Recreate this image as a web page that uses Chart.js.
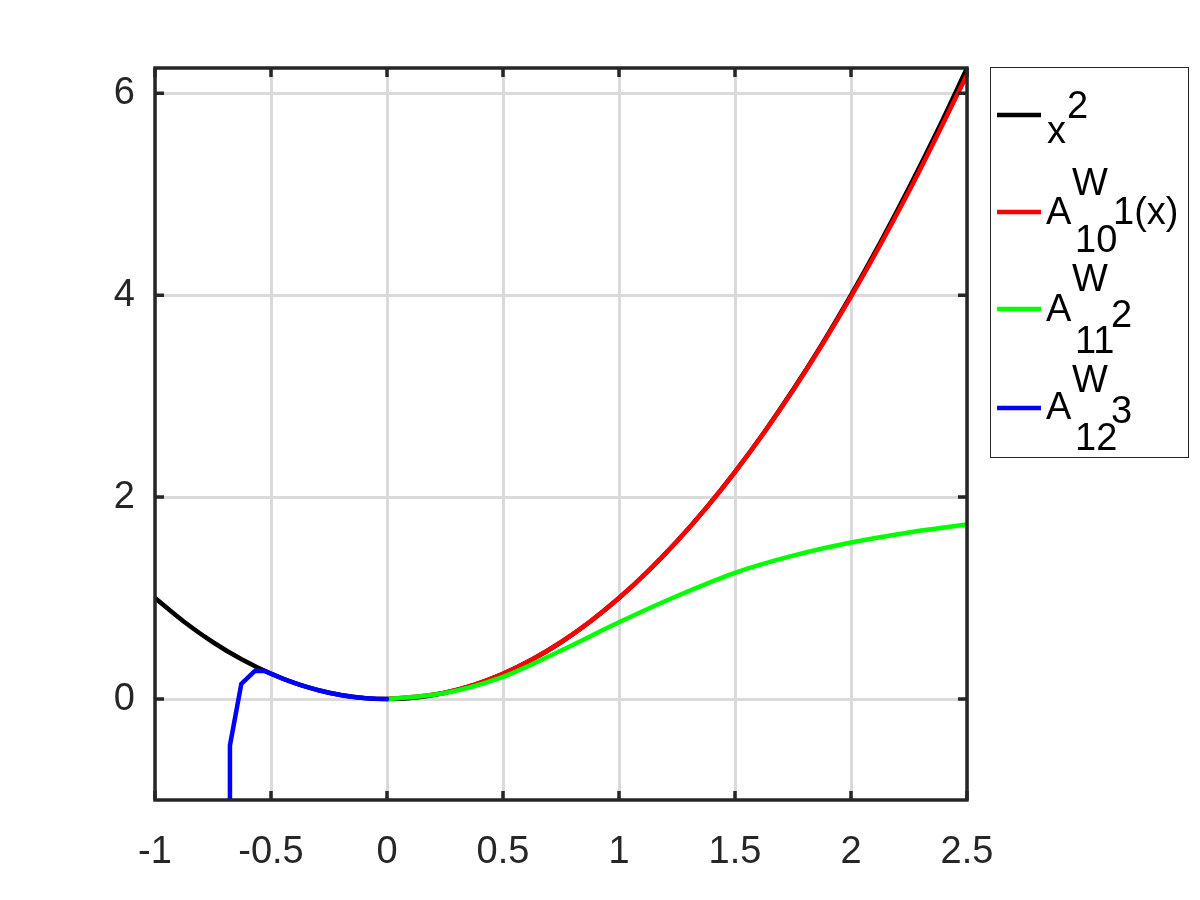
<!DOCTYPE html>
<html>
<head>
<meta charset="utf-8">
<script src="https://cdn.jsdelivr.net/npm/chart.js@4"></script>
<style>
  body { margin: 0; background: #fff; }
  #wrap { width: 1200px; height: 900px; }
</style>
</head>
<body>
<div id="wrap"><canvas id="chart" width="1200" height="900"></canvas></div>
<script>
// x^2 reference curve
const xBlack = [-1, -0.875, -0.75, -0.625, -0.5, -0.375, -0.25, -0.125, 0, 0.125, 0.25, 0.375, 0.5, 0.625, 0.75, 0.875, 1, 1.125, 1.25, 1.375, 1.5, 1.625, 1.75, 1.875, 2, 2.125, 2.25, 2.375, 2.5];
const yBlack = [1, 0.7656, 0.5625, 0.3906, 0.25, 0.1406, 0.0625, 0.0156, 0, 0.0156, 0.0625, 0.1406, 0.25, 0.3906, 0.5625, 0.7656, 1, 1.2656, 1.5625, 1.8906, 2.25, 2.6406, 3.0625, 3.5156, 4, 4.5156, 5.0625, 5.6406, 6.25];

// A^W_10 1(x)
const xRed = [0, 0.25, 0.5, 0.75, 1, 1.25, 1.5, 1.75, 2, 2.25, 2.5];
const yRed = [0, 0.0625, 0.25, 0.5625, 1, 1.562, 2.248, 3.055, 3.985, 5.03, 6.18];

// A^W_11 2
const xGreen = [0, 0.25, 0.5, 0.75, 1, 1.25, 1.5, 1.75, 2, 2.25, 2.5];
const yGreen = [0, 0.06, 0.22, 0.48, 0.76, 1.02, 1.25, 1.42, 1.55, 1.65, 1.73];

// A^W_12 3
const xBlue = [-0.681, -0.677, -0.628, -0.569, -0.526, -0.45, -0.4, -0.35, -0.3, -0.25, -0.2, -0.15, -0.1, -0.05, 0];
const yBlue = [-1.0, -0.46, 0.15, 0.28, 0.277, 0.2025, 0.16, 0.1225, 0.09, 0.0625, 0.04, 0.0225, 0.01, 0.0025, 0];

const xTicks = [-1, -0.5, 0, 0.5, 1, 1.5, 2, 2.5];
const yTicks = [0, 2, 4, 6];

const axisColor = '#262626';
const gridColor = '#dadada';
const font = 'Liberation Sans, Arial, Helvetica, sans-serif';

function pts(xs, ys) {
    return xs.map((x, i) => ({ x: x, y: ys[i] }));
}

// Function to draw the box with inward ticks
const boxPlugin = {
    id: 'box',
    afterDraw(chart) {
        const ctx = chart.ctx;
        const a = chart.chartArea;
        const xs = chart.scales.x;
        const ys = chart.scales.y;
        const tl = 9;
        ctx.save();
        ctx.strokeStyle = axisColor;
        ctx.lineWidth = 3.5;
        ctx.beginPath();
        xTicks.forEach(v => {
            const px = xs.getPixelForValue(v);
            ctx.moveTo(px, a.bottom); ctx.lineTo(px, a.bottom - tl);
            ctx.moveTo(px, a.top); ctx.lineTo(px, a.top + tl);
        });
        yTicks.forEach(v => {
            const py = ys.getPixelForValue(v);
            ctx.moveTo(a.left, py); ctx.lineTo(a.left + tl, py);
            ctx.moveTo(a.right, py); ctx.lineTo(a.right - tl, py);
        });
        ctx.stroke();
        ctx.strokeRect(a.left, a.top, a.right - a.left, a.bottom - a.top);
        ctx.restore();
    }
};

// Function to draw the legend with super/subscripts
const legendPlugin = {
    id: 'texLegend',
    afterDraw(chart) {
        const ctx = chart.ctx;
        ctx.save();
        ctx.fillStyle = '#fff';
        ctx.fillRect(990, 67, 198, 390);
        ctx.strokeStyle = axisColor;
        ctx.lineWidth = 1;
        ctx.strokeRect(990.5, 67.5, 198, 390);

        const entries = [
            { color: '#000000', y: 115, parts: [['x', 1047, 28], ['2', 1067, 3]] },
            { color: '#ff0000', y: 212, parts: [['A', 1046, 12], ['W', 1072, -17], ['10', 1075, 40], ['1(x)', 1113, 12]] },
            { color: '#00ff00', y: 309, parts: [['A', 1046, 12], ['W', 1072, -18], ['11', 1075, 44], ['2', 1111, 18]] },
            { color: '#0000ff', y: 408, parts: [['A', 1046, 11], ['W', 1072, -16], ['12', 1075, 42], ['3', 1111, 15]] }
        ];
        entries.forEach(e => {
            ctx.strokeStyle = e.color;
            ctx.lineWidth = 4.5;
            ctx.beginPath();
            ctx.moveTo(997, e.y);
            ctx.lineTo(1041, e.y);
            ctx.stroke();
            ctx.fillStyle = '#000';
            ctx.font = '38px ' + font;
            ctx.textBaseline = 'alphabetic';
            ctx.textAlign = 'left';
            e.parts.forEach(p => ctx.fillText(p[0], p[1], e.y + p[2]));
        });
        ctx.restore();
    }
};

const ctx = document.getElementById('chart').getContext('2d');

new Chart(ctx, {
    type: 'line',
    data: {
        datasets: [
            { label: 'x^2', data: pts(xBlack, yBlack), borderColor: '#000000', order: 4, cubicInterpolationMode: 'monotone' },
            { label: 'A^W_10 1(x)', data: pts(xRed, yRed), borderColor: '#ff0000', order: 3, cubicInterpolationMode: 'monotone' },
            { label: 'A^W_11 2', data: pts(xGreen, yGreen), borderColor: '#00ff00', order: 2, cubicInterpolationMode: 'monotone' },
            { label: 'A^W_12 3', data: pts(xBlue, yBlue), borderColor: '#0000ff', order: 1, tension: 0 }
        ]
    },
    options: {
        responsive: false,
        animation: false,
        layout: { padding: { left: 0, top: 68, right: 233, bottom: 0 } },
        elements: {
            point: { radius: 0 },
            line: { borderWidth: 4.5, borderCapStyle: 'round', borderJoinStyle: 'round' }
        },
        plugins: {
            legend: { display: false },
            tooltip: { enabled: false }
        },
        scales: {
            x: {
                type: 'linear',
                min: -1,
                max: 2.5,
                afterBuildTicks: s => { s.ticks = xTicks.map(v => ({ value: v })); },
                afterFit: s => { s.height = 100; },
                grid: { color: gridColor, lineWidth: 3, drawTicks: false },
                border: { display: false },
                ticks: {
                    color: axisColor,
                    padding: 30,
                    maxRotation: 0,
                    font: { family: font, size: 38 },
                    callback: v => String(v)
                }
            },
            y: {
                type: 'linear',
                min: -1,
                max: 6.25,
                afterBuildTicks: s => { s.ticks = yTicks.map(v => ({ value: v })); },
                afterFit: s => { s.width = 155; },
                grid: { color: gridColor, lineWidth: 3, drawTicks: false },
                border: { display: false },
                ticks: {
                    color: axisColor,
                    padding: 20,
                    font: { family: font, size: 38 },
                    callback: v => String(v)
                }
            }
        }
    },
    plugins: [boxPlugin, legendPlugin]
});
</script>
</body>
</html>
